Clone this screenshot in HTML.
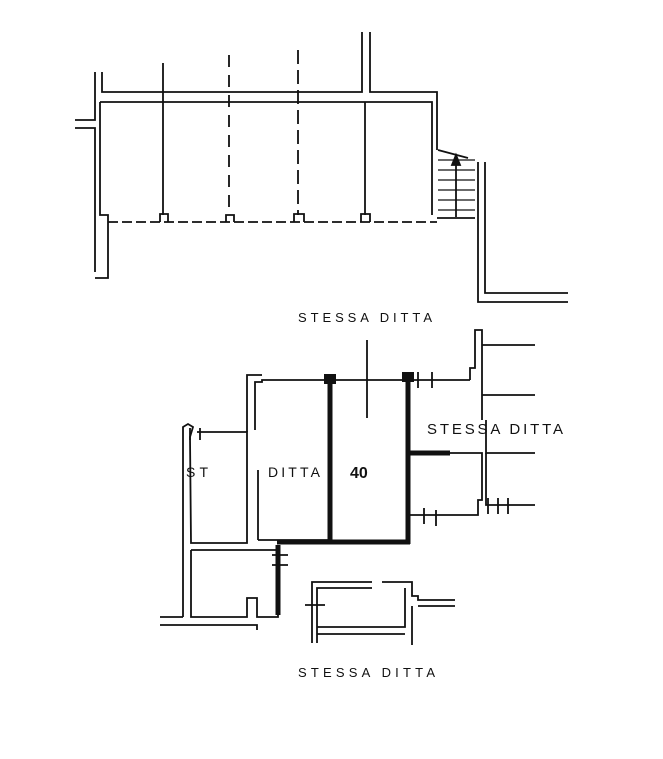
<!DOCTYPE html>
<html><head><meta charset="utf-8"><style>
html,body{margin:0;padding:0;background:#fff;}
svg{display:block}
text{font-family:"Liberation Sans",sans-serif;fill:#111;}
</style></head><body>
<svg width="663" height="759" viewBox="0 0 663 759" xmlns="http://www.w3.org/2000/svg">
<g stroke="#111" stroke-width="1.8" fill="none">
<!-- TOP PLAN -->
<polyline points="95,72 95,120 75,120"/>
<polyline points="75,128 95,128 95,272"/>
<polyline points="102,72 102,92 362,92 362,32"/>
<polyline points="370,32 370,92 437,92 437,150"/>
<polyline points="100,102 432,102 432,215"/>
<polyline points="100,102 100,215 108,215 108,278 95,278"/>
<line x1="108" y1="222" x2="437" y2="222" stroke-dasharray="10,4"/>
<line x1="163" y1="63" x2="163" y2="215"/>
<line x1="229" y1="55" x2="229" y2="215" stroke-dasharray="12,8"/>
<line x1="298" y1="50" x2="298" y2="215" stroke-dasharray="14,6"/>
<line x1="365" y1="102" x2="365" y2="215"/>
<path d="M160,222 V214 H168 V222 M226,222 V215 H234 V222 M294,222 V214 H304 V222 M361,222 V214 H370 V222"/>
<!-- stairs -->
<polyline points="437,218 475,218"/>
<path d="M438,160 H475 M438,170 H475 M438,180 H475 M438,190 H475 M438,200 H475 M438,210 H475" stroke-width="1.2"/>
<line x1="456" y1="217" x2="456" y2="158"/>
<path d="M452,165 L456,155 L460,165 Z" fill="#111"/>
<polyline points="478,162 478,302 568,302"/>
<polyline points="485,162 485,293 568,293"/>
<line x1="438" y1="150" x2="468" y2="158"/>

<!-- BOTTOM PLAN -->
<polyline points="183,617 183,427 188,424 193,427 190,437 191,543 247,543 247,432 197,432"/>
<polyline points="191,550 191,617 247,617 247,598 257,598 257,617 278,617 278,545"/>
<polyline points="160,617 183,617"/>
<polyline points="160,625 257,625 257,630"/>
<polyline points="247,432 247,375 262,375"/>
<polyline points="255,430 255,382 262,382 262,380 330,380"/>
<line x1="258" y1="470" x2="258" y2="540"/>
<line x1="258" y1="540" x2="330" y2="540"/>
<line x1="191" y1="550" x2="277" y2="550"/>
<line x1="330" y1="380" x2="470" y2="380"/>
<line x1="367" y1="340" x2="367" y2="418"/>
<g stroke-width="5">
<line x1="330" y1="378" x2="330" y2="542"/>
<line x1="408" y1="376" x2="408" y2="544"/>
<line x1="277" y1="542" x2="410" y2="542"/>
<line x1="408" y1="453" x2="450" y2="453"/>
<line x1="278" y1="545" x2="278" y2="615"/>
</g>
<rect x="324" y="374" width="12" height="10" fill="#111" stroke="none"/>
<rect x="402" y="372" width="12" height="10" fill="#111" stroke="none"/>
<polyline points="470,380 470,368 475,368 475,330 482,330 482,420"/>
<polyline points="482,345 535,345"/>
<polyline points="482,395 535,395"/>
<polyline points="486,420 486,453 535,453"/>
<polyline points="450,453 482,453 482,500 478,500 478,515 410,515"/>
<polyline points="486,453 486,505 535,505"/>
<path d="M418,372 V388 M432,372 V388 M424,508 V524 M436,510 V526 M488,498 V514 M498,498 V514 M508,498 V514 M190,428 V440 M200,428 V440 M272,555 H288 M272,565 H288 M305,605 H325"/>
<polyline points="312,643 312,582 372,582"/>
<polyline points="317,643 317,588 372,588"/>
<polyline points="382,582 412,582 412,596 418,596 418,600 455,600"/>
<polyline points="418,606 455,606"/>
<polyline points="405,588 405,627 317,627"/>
<polyline points="412,606 412,645"/>
<line x1="317" y1="634" x2="405" y2="634"/>
</g>
<text x="298" y="322" font-size="13" textLength="134" lengthAdjust="spacing">STESSA DITTA</text>
<text x="427" y="434" font-size="15" textLength="136" lengthAdjust="spacing">STESSA DITTA</text>
<text x="186" y="477" font-size="14" textLength="22" lengthAdjust="spacing">ST</text>
<text x="268" y="477" font-size="14" textLength="52" lengthAdjust="spacing">DITTA</text>
<text x="350" y="478" font-size="16" font-weight="bold">40</text>
<text x="298" y="677" font-size="13" textLength="137" lengthAdjust="spacing">STESSA DITTA</text>
</svg>
</body></html>
